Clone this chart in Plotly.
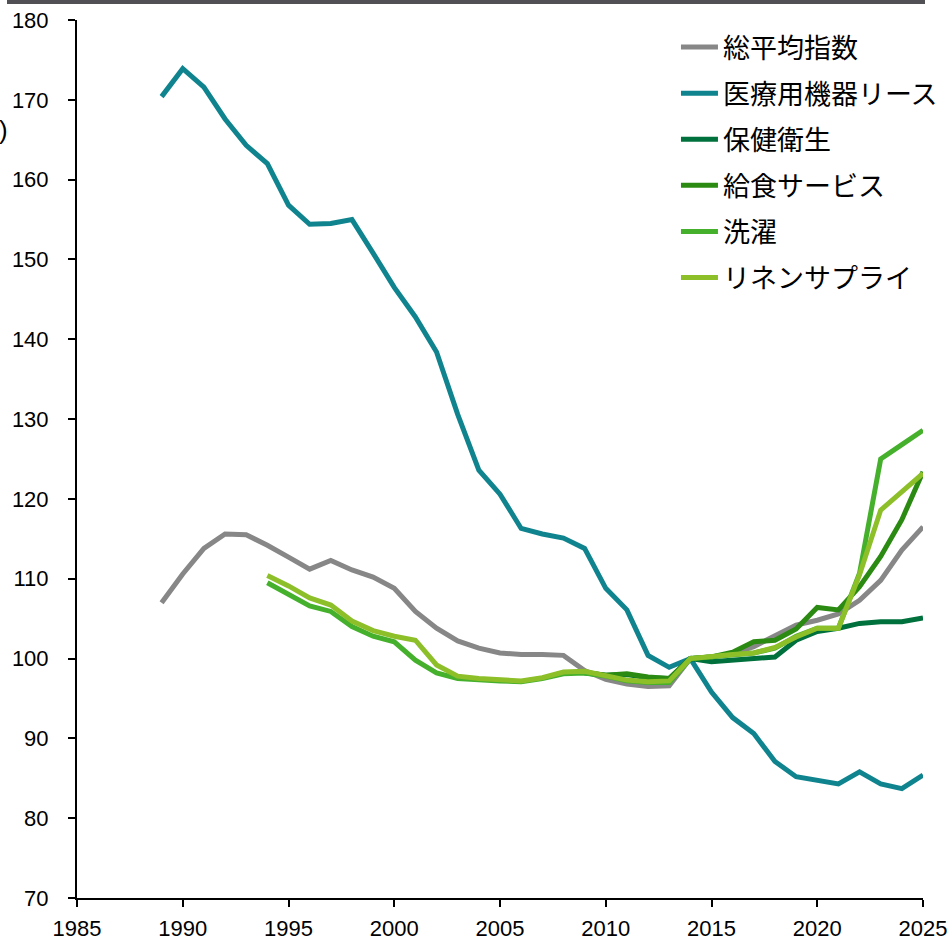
import plotly.graph_objects as go

years = list(range(1989, 2026))
years_from_1994 = list(range(1994, 2026))
years_from_2009 = list(range(2009, 2026))

sogo = [107.0, 110.6, 113.8, 115.6, 115.5, 114.2, 112.7, 111.2, 112.3, 111.1,
        110.2, 108.8, 105.9, 103.8, 102.2, 101.3, 100.7, 100.5, 100.5, 100.4,
        98.5, 97.4, 96.8, 96.5, 96.6, 100.0, 100.2, 100.6, 101.5, 102.8,
        104.2, 104.8, 105.6, 107.3, 109.8, 113.6, 116.5]

iryo = [170.4, 173.9, 171.6, 167.6, 164.3, 162.0, 156.8, 154.4, 154.5, 155.0,
        150.8, 146.5, 142.8, 138.4, 130.6, 123.6, 120.6, 116.3, 115.6, 115.1,
        113.8, 108.8, 106.1, 100.4, 98.9, 100.0, 95.8, 92.6, 90.6, 87.1,
        85.2, 84.8, 84.3, 85.8, 84.3, 83.7, 85.4]

hoken = [98.2, 97.9, 98.0, 97.6, 97.5, 100.0, 99.6, 99.8, 99.9, 100.2,
         102.3, 103.4, 103.8, 104.4, 104.6, 104.6, 105.1]

kyushoku = [98.3, 97.9, 98.1, 97.7, 97.5, 100.0, 100.2, 100.8, 102.1, 102.3,
            103.7, 106.4, 106.1, 109.0, 112.8, 117.4, 123.4]

sentaku = [109.5, 108.0, 106.6, 105.9, 104.0, 102.8, 102.1, 99.8, 98.2, 97.5,
           97.3, 97.2, 97.1, 97.5, 98.1, 98.2, 97.8, 97.2, 97.0, 97.0,
           100.0, 100.2, 100.4, 100.7, 101.3, 102.8, 103.8, 103.8, 110.7, 125.0,
           126.8, 128.6]

linen = [110.4, 109.1, 107.6, 106.7, 104.7, 103.5, 102.8, 102.3, 99.2, 97.8,
         97.5, 97.4, 97.2, 97.6, 98.3, 98.4, 97.9, 97.3, 97.1, 97.2,
         100.0, 100.3, 100.5, 100.7, 101.4, 102.7, 103.8, 103.8, 110.5, 118.6,
         120.9, 123.2]

x_ticks = list(range(1985, 2026, 5))
y_ticks = list(range(70, 181, 10))

series = [
    ("総平均指数", years, sogo, "#878787"),
    ("医療用機器リース", years, iryo, "#0f848e"),
    ("保健衛生", years_from_2009, hoken, "#00703c"),
    ("給食サービス", years_from_2009, kyushoku, "#2b8a12"),
    ("洗濯", years_from_1994, sentaku, "#45b02c"),
    ("リネンサプライ", years_from_1994, linen, "#8dbf28"),
]

fig = go.Figure()
for name, xs, ys, color in series:
    fig.add_trace(go.Scatter(
        x=xs, y=ys, name=name, mode="lines", legendgroup=name,
        line=dict(color=color, width=5),
    ))

tick_font = dict(family="Liberation Sans, Arial, sans-serif", size=22, color="#000000")

fig.update_layout(
    width=950, height=941,
    margin=dict(l=77, r=27, t=20, b=43, autoexpand=False),
    paper_bgcolor="white", plot_bgcolor="white",
    showlegend=True,
    legend=dict(
        x=0.708, y=0.9966, xanchor="left", yanchor="top",
        font=dict(family="Noto Sans CJK JP, sans-serif", size=27, color="#000000"),
        bgcolor="rgba(0,0,0,0)", itemwidth=37, tracegroupgap=8,
        traceorder="grouped",
    ),
    xaxis=dict(
        range=[1985, 2025], tickmode="array", tickvals=x_ticks,
        ticktext=[str(v) for v in x_ticks],
        showgrid=False, zeroline=False, showline=True, linecolor="#000000",
        linewidth=2, ticks="outside", ticklen=7, tickwidth=2, tickcolor="#000000",
        tickfont=tick_font, ticklabelstandoff=3, automargin=False,
    ),
    yaxis=dict(
        range=[70, 180], tickmode="array", tickvals=y_ticks,
        ticktext=[str(v) for v in y_ticks],
        showgrid=False, zeroline=False, showline=True, linecolor="#000000",
        linewidth=2, ticks="outside", ticklen=7, tickwidth=2, tickcolor="#000000",
        tickfont=tick_font, ticklabelstandoff=15, automargin=False,
    ),
    shapes=[dict(
        type="line", xref="paper", yref="paper",
        x0=(7 - 77) / 846, x1=(925 - 77) / 846,
        y0=(898 - 2) / 878, y1=(898 - 2) / 878,
        line=dict(color="#505055", width=4),
    )],
    annotations=[dict(
        text=")", xref="paper", yref="paper",
        x=(10 - 77) / 846, y=(898 - 130) / 878, xanchor="right", yanchor="middle",
        showarrow=False, font=dict(family="Liberation Sans, Arial, sans-serif", size=26, color="#000000"),
    )],
)

fig.write_html(
    "out.html",
    config={"displayModeBar": False},
    post_script="document.body.style.margin='0';document.body.style.padding='0';document.body.style.overflow='hidden';",
)
